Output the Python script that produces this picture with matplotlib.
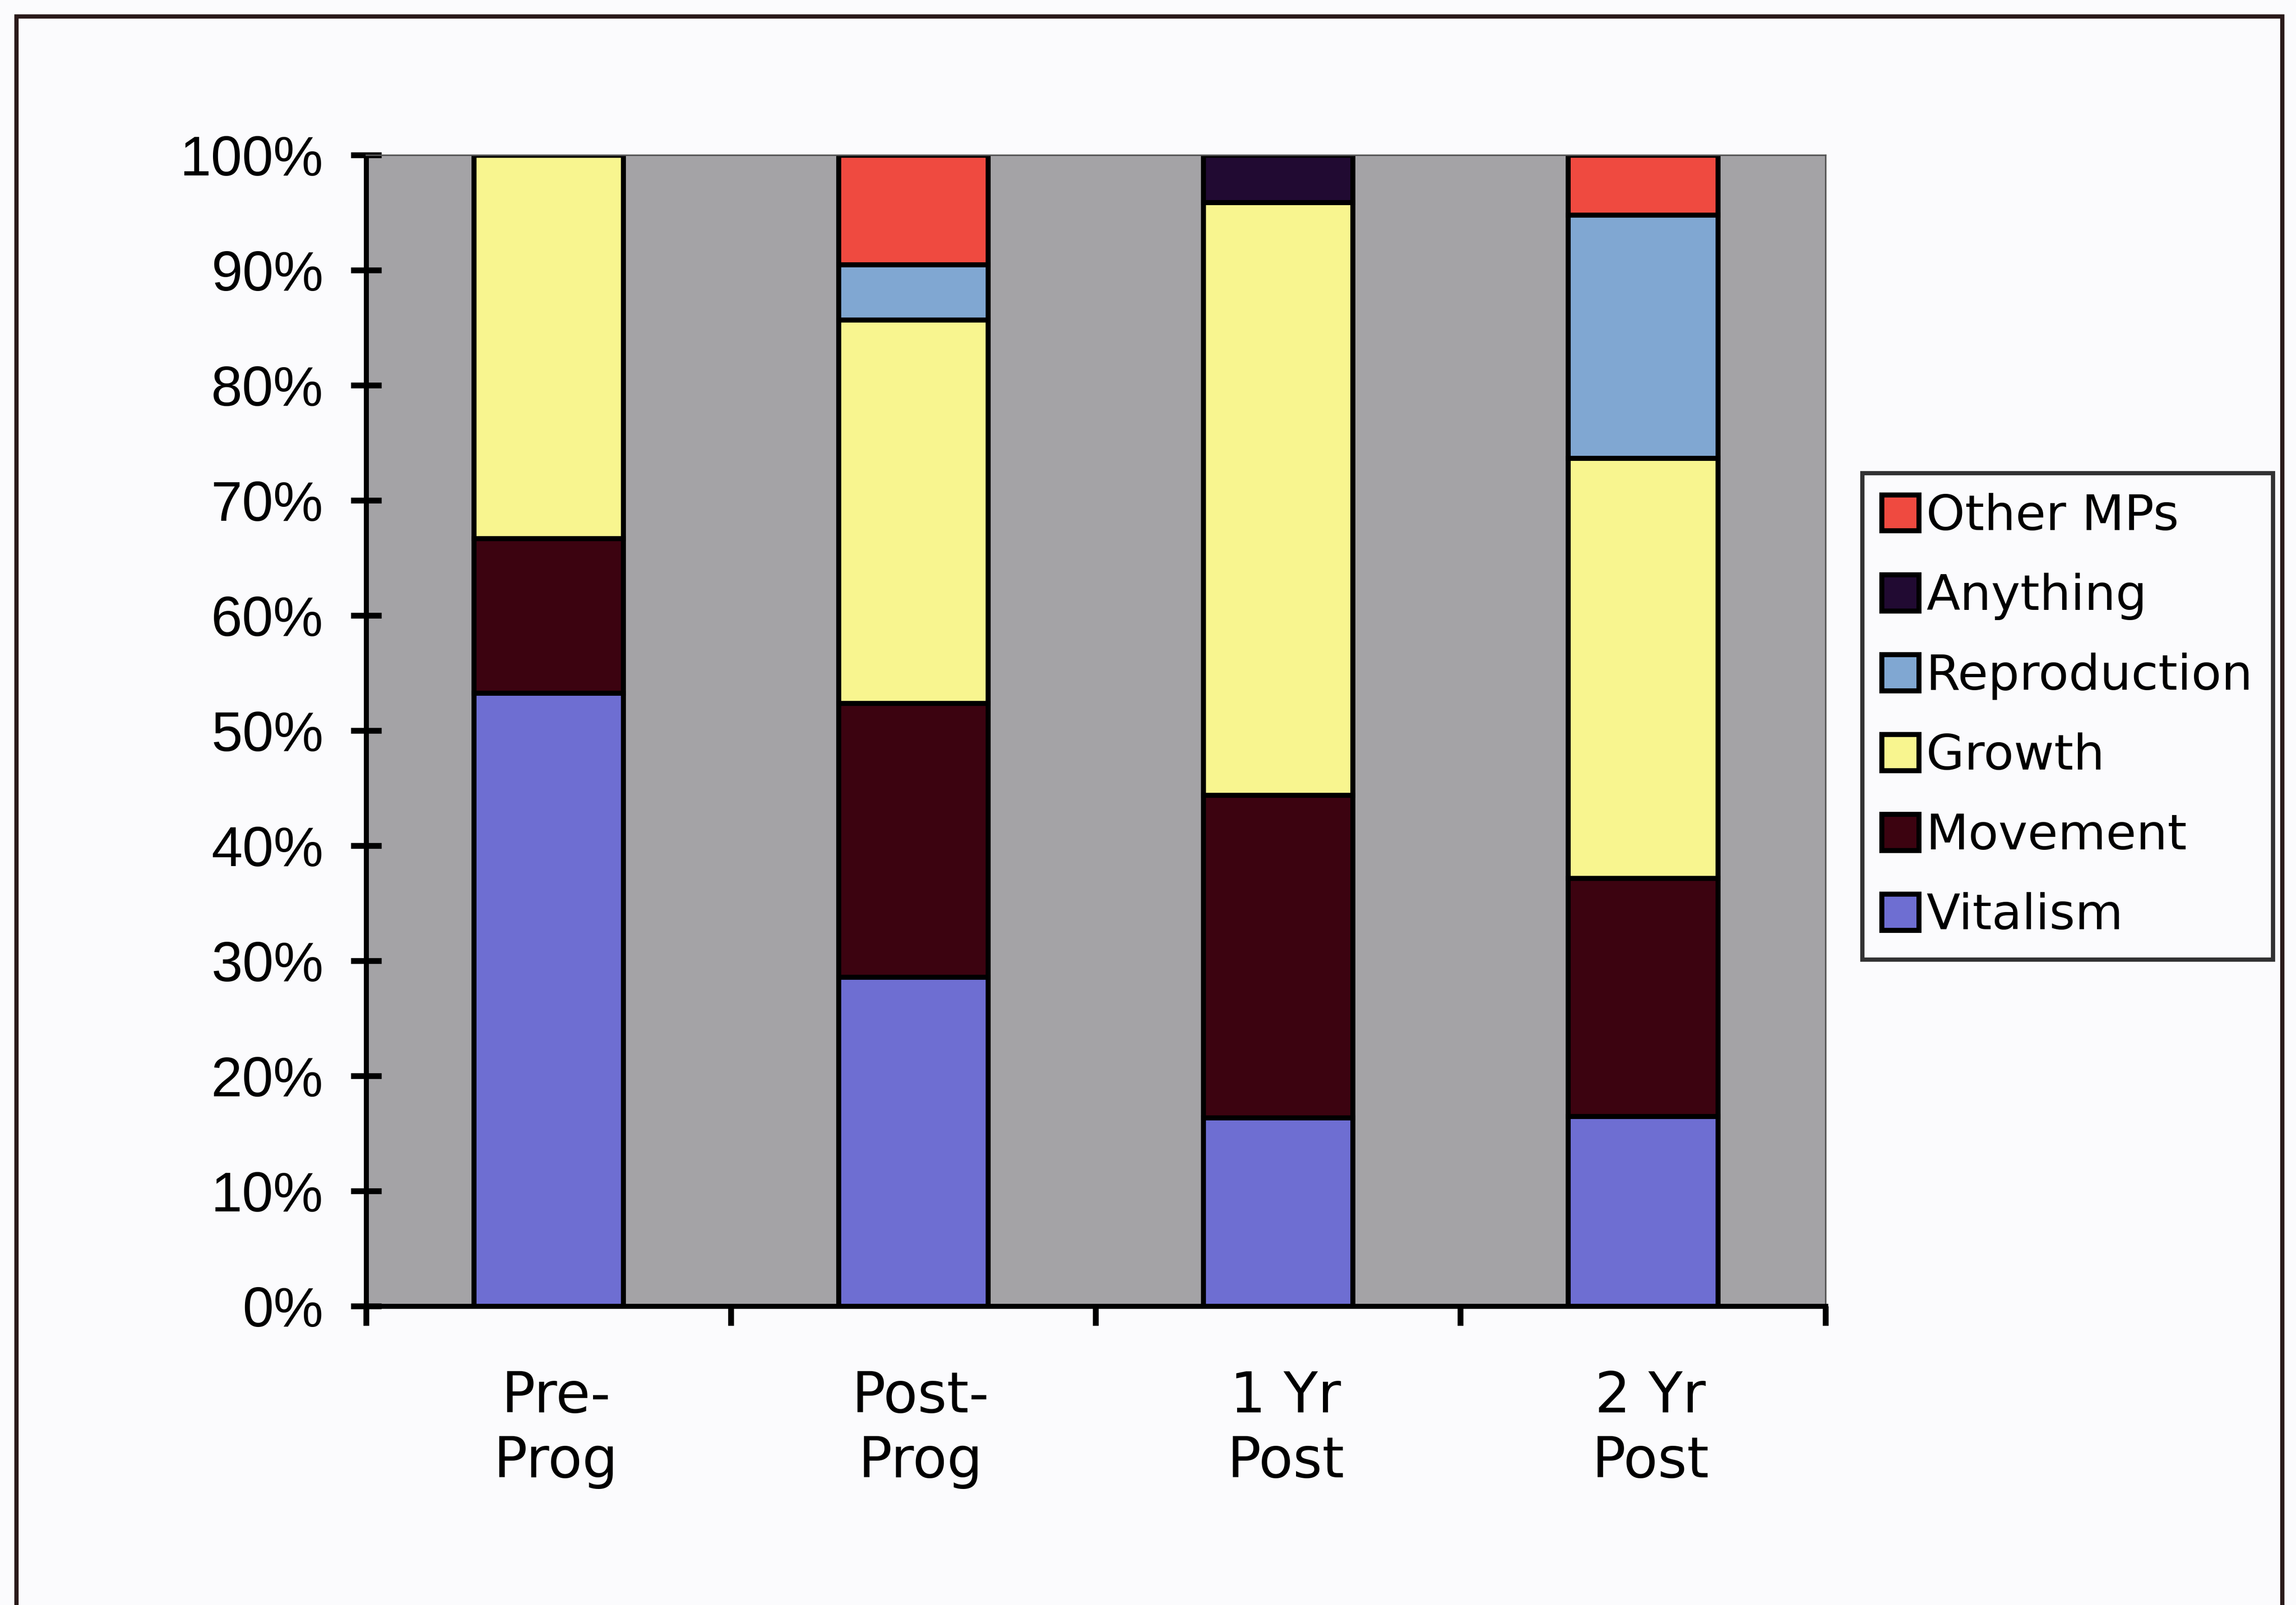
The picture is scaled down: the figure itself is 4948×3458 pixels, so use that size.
import matplotlib
matplotlib.use("Agg")
import matplotlib.pyplot as plt
from matplotlib.patches import Rectangle
import numpy as np

# data (percent of each group)
groups = ["Pre-\nProg", "Post-\nProg", "1 Yr\nPost", "2 Yr\nPost"]
vitalism = [53.3, 28.6, 16.4, 16.5]
movement = [13.4, 23.8, 28.0, 20.7]
growth = [33.3, 33.3, 51.5, 36.5]
reproduction = [0.0, 4.8, 0.0, 21.1]
anything = [0.0, 0.0, 4.1, 0.0]
other_mps = [0.0, 9.5, 0.0, 5.2]

series = [
    ("Vitalism", vitalism, "#6e6ed2"),
    ("Movement", movement, "#3c0310"),
    ("Growth", growth, "#f8f58f"),
    ("Reproduction", reproduction, "#80a7d2"),
    ("Anything", anything, "#210a32"),
    ("Other MPs", other_mps, "#ef4a40"),
]

fig = plt.figure(figsize=(4948 / 300, 3458 / 300), dpi=300, facecolor="#fbfbfd")
ax = fig.add_axes([0.1594, 0.1861, 0.6356, 0.7172])
ax.set_facecolor("#a4a3a6")

x = np.arange(len(groups))
bottom = np.zeros(len(groups))
handles = []
for name, vals, col in series:
    vals = np.array(vals)
    b = ax.bar(x, vals, 0.41, bottom=bottom, color=col, edgecolor="black",
               linewidth=2.6, label=name)
    handles.append(b)
    bottom += vals

ax.set_xlim(-0.5, 3.5)
ax.set_ylim(0, 100)
ax.set_yticks(np.arange(0, 101, 10))
ax.set_yticklabels([f"{v}%" for v in range(0, 101, 10)],
                   fontfamily="Liberation Sans", fontsize=29)
ax.set_xticks([-0.5, 0.5, 1.5, 2.5, 3.5])
ax.set_xticklabels([])
ax.tick_params(axis="y", direction="inout", length=16, width=3, pad=14)
ax.tick_params(axis="x", direction="out", length=10, width=3)

for i, g in enumerate(groups):
    ax.text(i + 0.02, -5.5, g, ha="center", va="top", fontsize=29,
            fontfamily="DejaVu Sans", linespacing=1.25,
            transform=ax.transData)

for s in ["left", "bottom"]:
    ax.spines[s].set_linewidth(2.6)
for s in ["top", "right"]:
    ax.spines[s].set_linewidth(0.8)
    ax.spines[s].set_color("#555555")

leg = fig.legend(handles[::-1], [s[0] for s in series][::-1],
                 loc="upper left", bbox_to_anchor=(0.811, 0.7053),
                 prop={"family": "DejaVu Sans", "size": 25.5},
                 frameon=True, fancybox=False, edgecolor="black",
                 handlelength=0.75, handleheight=0.75, handletextpad=0.15,
                 labelspacing=0.66, borderpad=0.4, borderaxespad=0)
leg.get_frame().set_linewidth(2.2)
leg.get_frame().set_facecolor("#fbfbfd")

# outer chart frame
fig.patches.append(Rectangle((0.007, -0.05), 0.987, 1.04, transform=fig.transFigure,
                             fill=False, edgecolor="#2a1a1a", linewidth=2.2))

fig.savefig("out.png", dpi=300, facecolor=fig.get_facecolor())
